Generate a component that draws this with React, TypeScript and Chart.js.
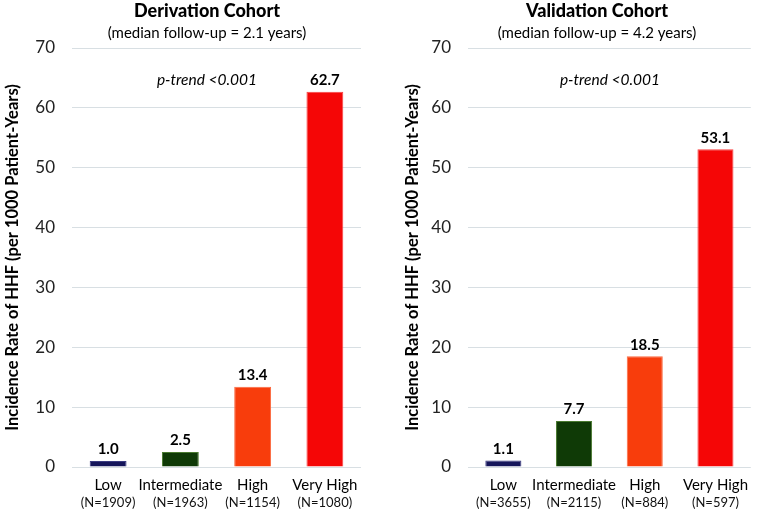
import React, { useEffect, useRef } from 'react';
import { Chart, registerables } from 'chart.js';

Chart.register(...registerables);

const FONT = 'Lato, "Open Sans", sans-serif';

const categories = ['Low', 'Intermediate', 'High', 'Very High'];
const barColors = ['#15155a', '#0f3a06', '#f83d0c', '#f50606'];
const barBorders = ['#3a3a80', '#4a7a30', '#fb6a40', '#f84040'];
const yTickValues = [0, 10, 20, 30, 40, 50, 60, 70];

const derivationRates = [1.0, 2.5, 13.4, 62.7];
const derivationN = ['(N=1909)', '(N=1963)', '(N=1154)', '(N=1080)'];
const validationRates = [1.1, 7.7, 18.5, 53.1];
const validationN = ['(N=3655)', '(N=2115)', '(N=884)', '(N=597)'];

const yTitle = 'Incidence Rate of HHF (per 1000 Patient-Years)';
const pTrend = 'p-trend <0.001';

type PanelCfg = {
  title: string;
  subtitle: string;
  rates: number[];
  nLabels: string[];
  titleX: number;
  pX: number;
  padLeft: number;
  padRight: number;
  yWidth: number;
};

function makeTextPlugin(cfg: PanelCfg) {
  return {
    id: 'panelText',
    afterDatasetsDraw(chart: any) {
      const ctx = chart.ctx as CanvasRenderingContext2D;
      ctx.save();
      const meta = chart.getDatasetMeta(0);
      ctx.textAlign = 'center';
      ctx.font = `bold 15px ${FONT}`;
      ctx.fillStyle = '#000';
      ctx.textBaseline = 'bottom';
      meta.data.forEach((bar: any, i: number) => {
        ctx.fillText(cfg.rates[i].toFixed(1), bar.x, bar.y - 4);
      });
      const xs = chart.scales.x;
      ctx.font = `13px ${FONT}`;
      ctx.textBaseline = 'middle';
      ctx.fillStyle = '#111';
      cfg.nLabels.forEach((t, i) => ctx.fillText(t, xs.getPixelForTick(i), 503));
      ctx.fillStyle = '#000';
      ctx.font = `900 18px ${FONT}`;
      ctx.fillText(cfg.title, cfg.titleX, 11);
      ctx.font = `15px ${FONT}`;
      ctx.fillText(cfg.subtitle, cfg.titleX, 33);
      ctx.font = `italic 15.5px ${FONT}`;
      ctx.fillText(pTrend, cfg.pX, 80);
      ctx.restore();
    },
  };
}

function Panel({ cfg, width }: { cfg: PanelCfg; width: number }) {
  const ref = useRef<HTMLCanvasElement>(null);
  useEffect(() => {
    if (!ref.current) return;
    const chart = new Chart(ref.current, {
      type: 'bar',
      data: {
        labels: categories,
        datasets: [
          {
            data: cfg.rates,
            backgroundColor: barColors,
            borderColor: barBorders,
            borderWidth: 1,
            categoryPercentage: 1,
            barPercentage: 0.51,
          },
        ],
      },
      options: {
        responsive: false,
        animation: false,
        devicePixelRatio: 1,
        layout: { padding: { left: cfg.padLeft, right: cfg.padRight, top: 48, bottom: 0 } },
        plugins: { legend: { display: false }, tooltip: { enabled: false }, title: { display: false } },
        scales: {
          x: {
            grid: { display: false, drawTicks: false },
            border: { display: false },
            ticks: { font: { family: FONT, size: 15 }, color: '#000', padding: 9, maxRotation: 0, autoSkip: false },
            afterFit: (s: any) => { s.height = 43; },
          },
          y: {
            min: 0,
            max: 70,
            afterBuildTicks: (s: any) => { s.ticks = yTickValues.map((v) => ({ value: v })); },
            grid: { color: '#d8dfe3', lineWidth: 1, drawTicks: false },
            border: { display: false },
            ticks: { font: { family: FONT, size: 17 }, color: '#222', padding: 17 },
            title: { display: true, text: yTitle, font: { family: FONT, size: 16.5, weight: 'bold' }, color: '#000', padding: { top: 3, bottom: 4 } },
            afterFit: (s: any) => { s.width = cfg.yWidth; },
          },
        },
      },
      plugins: [makeTextPlugin(cfg)],
    } as any);
    return () => chart.destroy();
  }, []);
  return <canvas ref={ref} width={width} height={510} style={{ display: 'block' }} />;
}

const leftCfg: PanelCfg = {
  title: 'Derivation Cohort',
  subtitle: '(median follow-up = 2.1 years)',
  rates: derivationRates,
  nLabels: derivationN,
  titleX: 207,
  pX: 207,
  padLeft: 0,
  padRight: 19,
  yWidth: 72,
};

const rightCfg: PanelCfg = {
  title: 'Validation Cohort',
  subtitle: '(median follow-up = 4.2 years)',
  rates: validationRates,
  nLabels: validationN,
  titleX: 217,
  pX: 230,
  padLeft: 20,
  padRight: 0,
  yWidth: 68,
};

export default function App() {
  return (
    <div style={{ position: 'absolute', left: 0, top: 0, width: 757, height: 510, background: '#fff' }}>
      <div style={{ position: 'absolute', left: 0, top: 0 }}>
        <Panel cfg={leftCfg} width={380} />
      </div>
      <div style={{ position: 'absolute', left: 380, top: 0 }}>
        <Panel cfg={rightCfg} width={377} />
      </div>
    </div>
  );
}
